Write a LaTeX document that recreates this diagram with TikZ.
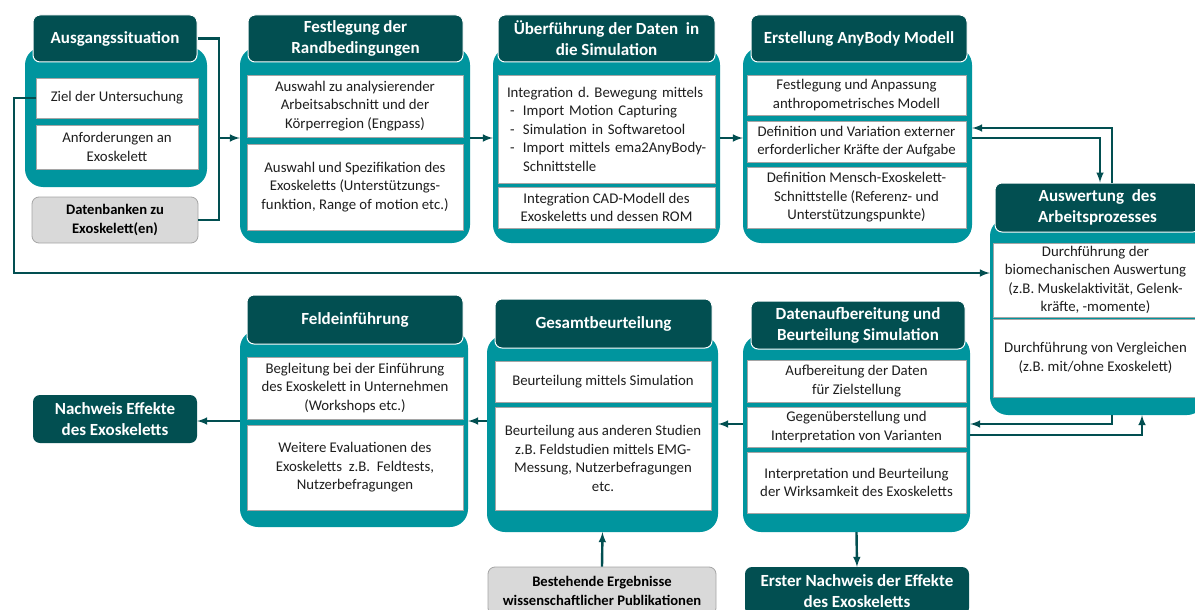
\documentclass[tikz,border=0pt]{standalone}
\usepackage{fontspec}
\setmainfont{Carlito}
\frenchspacing
\definecolor{dunkel}{HTML}{024F51}
\definecolor{petrol}{HTML}{00959E}
\definecolor{hellgrau}{HTML}{D9D9D9}
\definecolor{rand}{HTML}{A5A5A5}
\definecolor{schrift}{HTML}{1E1E1E}
\tikzset{
  panel/.style={fill=petrol, rounded corners=18pt, inner sep=0pt},
  kopf/.style={fill=dunkel, draw=white, line width=1pt, rounded corners=7pt,
    text=white, font=\fontsize{17}{21}\selectfont\bfseries, align=center, inner sep=2pt},
  inhalt/.style={fill=white, draw=rand, line width=0.8pt, text=schrift,
    font=\fontsize{14.8}{18.5}\selectfont, align=center, inner sep=2pt},
  grau/.style={fill=hellgrau, draw=rand, line width=0.8pt, rounded corners=7pt,
    text=black, font=\fontsize{14.6}{19}\selectfont\bfseries, align=center, inner sep=2pt},
  ziel/.style={fill=dunkel, rounded corners=7pt, text=white,
    font=\fontsize{17}{21}\selectfont\bfseries, align=center, inner sep=2pt},
  linie/.style={draw=dunkel, line width=2.4pt},
  pfeil/.style={draw=dunkel, line width=2.4pt, -latex},
}
\begin{document}
\begin{tikzpicture}[x=1pt,y=-1pt]
\clip (0,0) rectangle (1195,610);
\fill[white] (0,0) rectangle (1195,610);

% obere Reihe
\node[panel, minimum width=182, minimum height=140] (p1) at (116,117) {};
\node[kopf, minimum width=164, minimum height=47] (h1) at (115,38.5) {Ausgangssituation};
\node[inhalt, minimum width=162, minimum height=40] (z1) at (117,98) {Ziel der Untersuchung};
\node[inhalt, minimum width=162, minimum height=44] (z2) at (117,147) {Anforderungen an\\Exoskelett};
\node[grau, minimum width=166, minimum height=46] (db) at (115,220) {Datenbanken zu\\Exoskelett(en)};

\node[panel, minimum width=230, minimum height=196] (p2) at (355,145) {};
\node[kopf, minimum width=215, minimum height=47] (h2) at (355.5,38.5) {Festlegung der\\Randbedingungen};
\node[inhalt, minimum width=216, minimum height=62] (f1) at (355,106) {Auswahl zu analysierender\\Arbeitsabschnitt und der\\Körperregion (Engpass)};
\node[inhalt, minimum width=216, minimum height=86] (f2) at (355,187) {Auswahl und Spezifikation des\\Exoskeletts (Unterstützungs-\\funktion, Range of motion etc.)};

\node[panel, minimum width=227, minimum height=196] (p3) at (606.5,145) {};
\node[kopf, minimum width=217, minimum height=47] (h3) at (606.5,38.5) {Überführung der Daten~ in\\die Simulation};
\node[inhalt, text width=205, inner xsep=6, align=left, minimum height=108] (u1) at (606.5,129)
  {\hspace*{3pt}Integration d. Bewegung mittels\\
   \makebox[19pt][l]{\hspace{6pt}-}Import Motion Capturing\\
   \makebox[19pt][l]{\hspace{6pt}-}Simulation in Softwaretool\\
   \makebox[19pt][l]{\hspace{6pt}-}Import mittels ema2AnyBody-\\
   \hspace*{19pt}Schnittstelle};
\node[inhalt, minimum width=217, minimum height=41] (u2) at (606.5,207.5) {Integration CAD-Modell des\\Exoskeletts und dessen ROM};

\node[panel, minimum width=229, minimum height=196] (p4) at (857.5,145) {};
\node[kopf, minimum width=216, minimum height=47] (h4) at (859,38.5) {Erstellung AnyBody Modell};
\node[inhalt, minimum width=219, minimum height=40] (e1) at (856.5,95) {Festlegung und Anpassung\\anthropometrisches Modell};
\node[inhalt, minimum width=219, minimum height=41] (e2) at (856.5,141.5) {Definition und Variation externer\\erforderlicher Kräfte der Aufgabe};
\node[inhalt, minimum width=219, minimum height=61] (e3) at (856.5,197.5) {Definition Mensch-Exoskelett-\\Schnittstelle (Referenz- und\\Unterstützungspunkte)};

% rechte Seite
\node[panel, minimum width=215, minimum height=197] (p5) at (1097.5,316.5) {};
\node[kopf, minimum width=205, minimum height=49] (h5) at (1097.5,207.5) {Auswertung~ des\\Arbeitsprozesses};
\node[inhalt, minimum width=205, minimum height=74] (a1) at (1095.5,280) {Durchführung der\\biomechanischen Auswertung\\(z.B. Muskelaktivität, Gelenk-\\kräfte, -momente)};
\node[inhalt, minimum width=205, minimum height=78] (a2) at (1095.5,358) {Durchführung von Vergleichen\\(z.B. mit/ohne Exoskelett)};

% untere Reihe
\node[panel, minimum width=227, minimum height=197] (p6) at (856.5,433.5) {};
\node[kopf, minimum width=214, minimum height=48] (h6) at (858,325) {Datenaufbereitung und\\Beurteilung Simulation};
\node[inhalt, minimum width=219, minimum height=42] (d1) at (856.5,381) {Aufbereitung der Daten\\für Zielstellung};
\node[inhalt, minimum width=219, minimum height=40] (d2) at (856.5,427) {Gegenüberstellung und\\Interpretation von Varianten};
\node[inhalt, minimum width=219, minimum height=61] (d3) at (856.5,482.5) {Interpretation und Beurteilung\\der Wirksamkeit des Exoskeletts};

\node[panel, minimum width=231, minimum height=197] (p7) at (602.5,433.5) {};
\node[kopf, minimum width=217, minimum height=49] (h7) at (603.5,323.5) {Gesamtbeurteilung};
\node[inhalt, minimum width=216, minimum height=41] (g1) at (603,381.5) {Beurteilung mittels Simulation};
\node[inhalt, minimum width=216, minimum height=103] (g2) at (603,458.5) {Beurteilung aus anderen Studien\\z.B. Feldstudien mittels EMG-\\Messung, Nutzerbefragungen\\etc.};

\node[panel, minimum width=228, minimum height=197] (p8) at (354,428.5) {};
\node[kopf, minimum width=216, minimum height=49] (h8) at (355,319.5) {Feldeinführung};
\node[inhalt, minimum width=216, minimum height=62] (fe1) at (355,388) {Begleitung bei der Einführung\\des Exoskelett in Unternehmen\\(Workshops etc.)};
\node[inhalt, minimum width=216, minimum height=85] (fe2) at (355,467.5) {Weitere Evaluationen des\\Exoskeletts~ z.B.~ Feldtests,\\Nutzerbefragungen};

\node[ziel, minimum width=164, minimum height=48] (nw) at (115,419) {Nachweis Effekte\\des Exoskeletts};
\node[ziel, minimum width=224, minimum height=48] (en) at (857,591) {Erster Nachweis der Effekte\\des Exoskeletts};
\node[grau, minimum width=228, minimum height=48] (be) at (602,591) {Bestehende Ergebnisse\\wissenschaftlicher Publikationen};

% Verbindungen
\coordinate (c1) at (219,138);
\draw[linie] (h1.east) -| (c1) |- (db.east);
\draw[pfeil] (c1) -- (p2.west |- c1);
\draw[pfeil] (p2.east |- c1) -- (p3.west |- c1);
\draw[pfeil] (p3.east |- c1) -- (p4.west |- c1);
\coordinate (c2) at (1100,138);
\draw[pfeil] (p4.east |- c2) -| (c2 |- h5.north);
\coordinate (c3) at (1112,128);
\draw[pfeil] (c3 |- h5.north) |- (p4.east |- c3);
\coordinate (c4) at (14,273);
\draw[pfeil] (z1.west) -| (c4) -- (p5.west |- c4);
\coordinate (c5) at (1112,424);
\draw[pfeil] (p5.south -| c5) |- (p6.east |- c5);
\coordinate (c6) at (1142,435);
\draw[pfeil] (p6.east |- c6) -| (p5.south -| c6);
\draw[pfeil] (p6.west |- c5) -- (p7.east |- c5);
\coordinate (c7) at (0,421);
\draw[pfeil] (p7.west |- c7) -- (p8.east |- c7);
\draw[pfeil] (p8.west |- c7) -- (nw.east |- c7);
\draw[pfeil] (p6.south) -- (en.north);
\draw[pfeil] (be.north) -- (p7.south);
\end{tikzpicture}
\end{document}
